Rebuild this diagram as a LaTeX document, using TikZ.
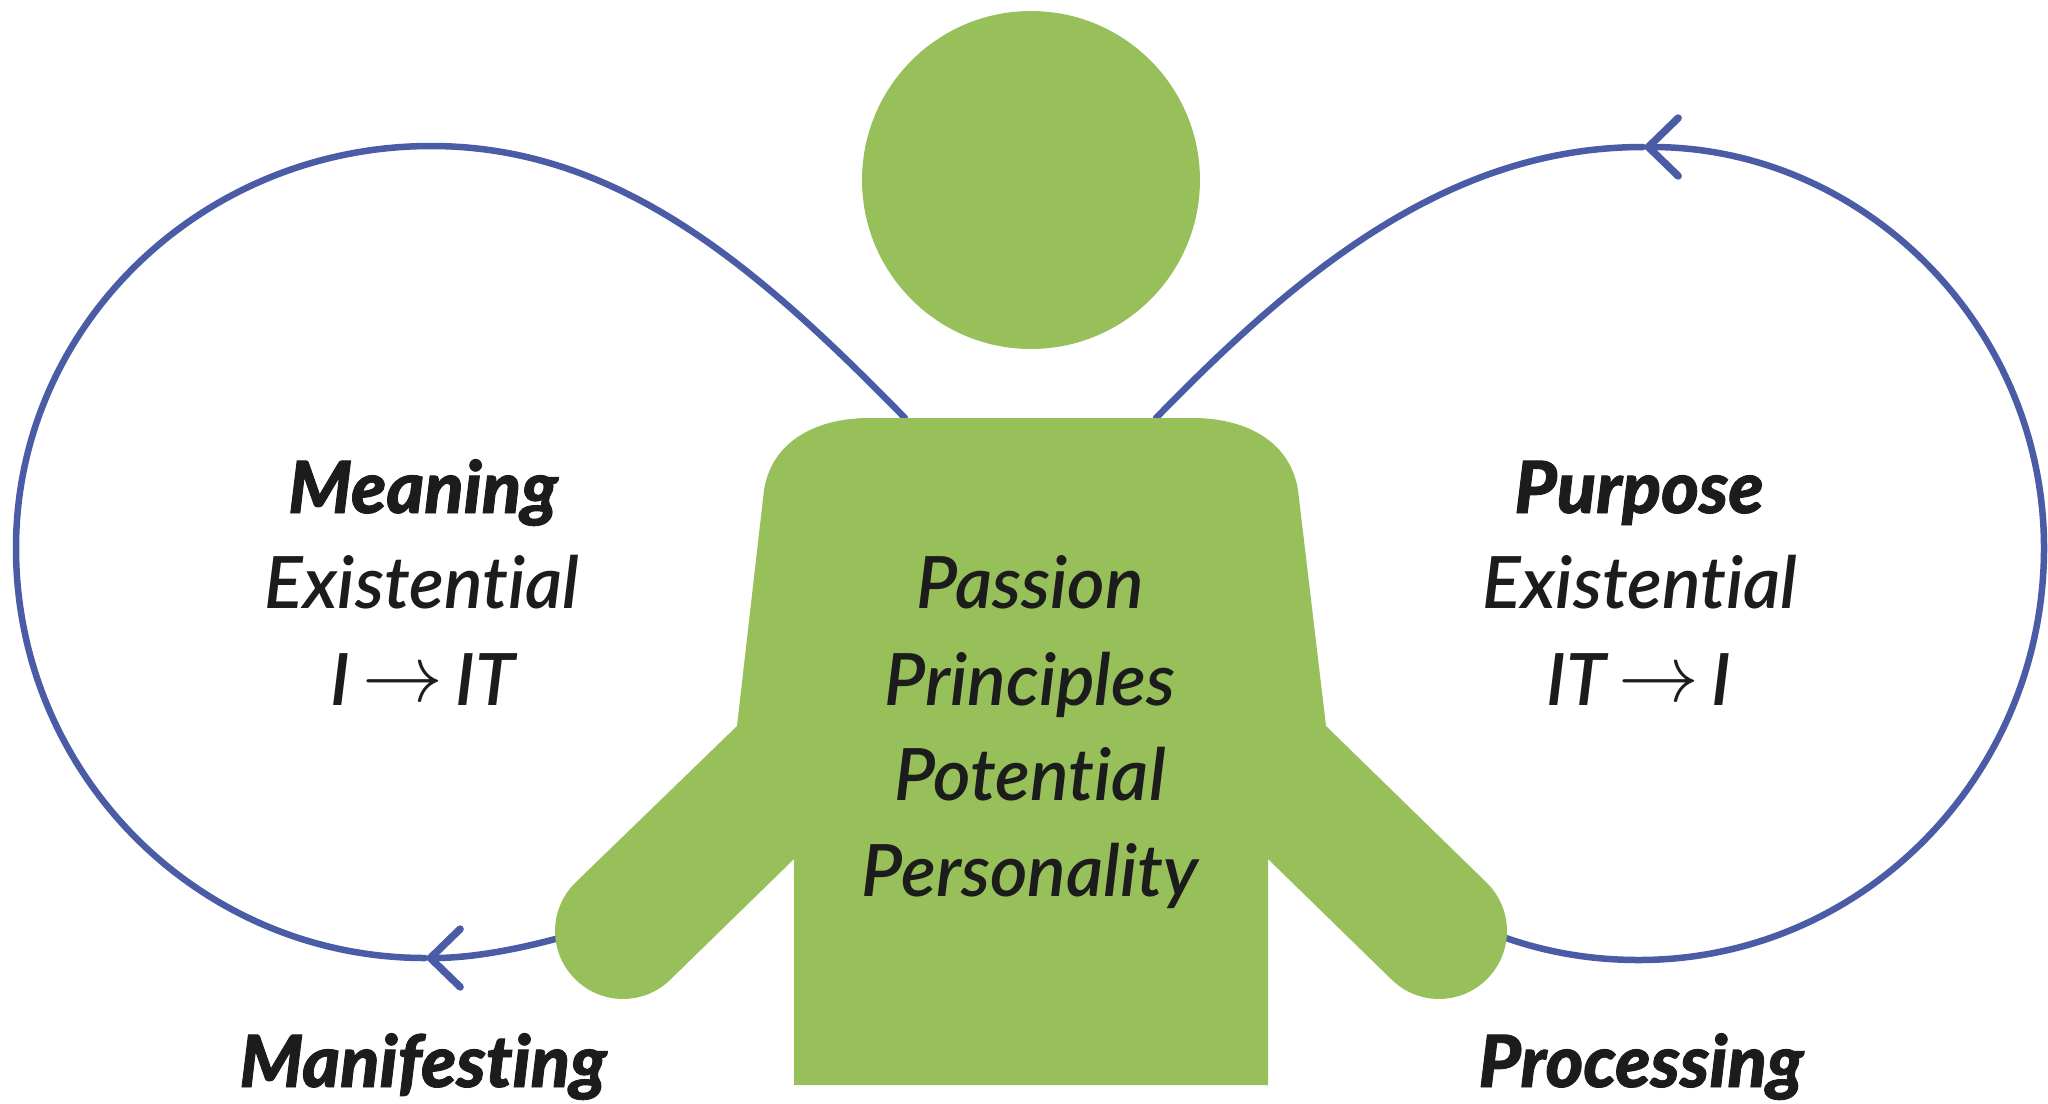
\documentclass[tikz,border=0pt]{standalone}
\usepackage{fontspec}
\usepackage{graphicx}
\setmainfont{Lato}[Ligatures=NoCommon,ItalicFont={Lato Semibold Italic},BoldItalicFont={Lato Black Italic},BoldItalicFeatures={FakeBold=1.2}]
\usetikzlibrary{arrows.meta}
\definecolor{bodygreen}{HTML}{98C05A}
\definecolor{loopblue}{HTML}{4A5CA5}
\definecolor{inktext}{HTML}{1C1C1C}
\newcommand{\longarrow}{\hspace{7pt}\raisebox{2pt}{\scalebox{1.85}{$\rightarrow$}}\hspace{7pt}}
\tikzset{
  loopline/.style={draw=loopblue,line width=3.7pt,line cap=round},
  barbtip/.style={-{Straight Barb[length=17pt,width=33pt,line width=4.2pt,line cap=round]}},
  figure/.style={fill=bodygreen,draw=none},
  lbl/.style={anchor=base,inner sep=0pt,text=inktext,font=\fontsize{41}{44}\selectfont\itshape},
  lblbold/.style={anchor=base,inner sep=0pt,text=inktext,font=\fontsize{41}{44}\selectfont\bfseries\itshape},
}
\begin{document}
\begin{tikzpicture}[x=0.02cm,y=-0.02cm]
\useasboundingbox (0,0) rectangle (2048,1103);
\fill[white] (0,0) rectangle (2048,1103);
% named loop points
\coordinate (lbodyend) at (905,418);
\coordinate (lhandend) at (559,938);
\coordinate (ltip) at (425,958);
\coordinate (rbodyend) at (1156,418);
\coordinate (rhandend) at (1506,938);
\coordinate (rtip) at (1643,147);
% left loop
\draw[loopline,barbtip] (lhandend) .. controls (515,950) and (470,958) .. (ltip);
\draw[loopline] (ltip) .. controls (200,958) and (16,775) .. (16,548)
  .. controls (16,326) and (202,146) .. (431,146)
  .. controls (620,146) and (760,270) .. (lbodyend);
% right loop
\draw[loopline,barbtip] (rhandend) .. controls (1555,955) and (1600,960) .. (1639,960)
  .. controls (1863,960) and (2044,775) .. (2044,548)
  .. controls (2044,326) and (1863,147) .. (rtip);
\draw[loopline] (rtip) .. controls (1450,147) and (1300,270) .. (rbodyend);
% figure
\node[figure,circle,minimum size=6.76cm,inner sep=0pt] (head) at (1031,180) {};
\path[figure] (869,418) -- (1193,418)
  .. controls (1244,418) and (1290,440) .. (1298,490)
  -- (1326,726) -- (1487,883)
  .. controls (1513.6,909.6) and (1513.6,952.4) .. (1487,979)
  .. controls (1460.4,1005.6) and (1417.6,1005.6) .. (1391,979)
  -- (1268,859) -- (1268,1085) -- (794,1085) -- (794,859)
  -- (671,979)
  .. controls (644.4,1005.6) and (601.6,1005.6) .. (575,979)
  .. controls (548.4,952.4) and (548.4,909.6) .. (575,883)
  -- (737,726) -- (764,490)
  .. controls (772,440) and (818,418) .. (869,418) -- cycle;
% left labels
\node[lblbold] (meaning) at (423,513) {Meaning};
\node[lbl] (exl) at (422,608) {Existential};
\node[lbl] (itl) at (423,705) {I\longarrow{}IT};
% right labels
\node[lblbold] (purpose) at (1639,513) {Purpose};
\node[lbl] (exr) at (1640,608) {Existential};
\node[lbl] (itr) at (1639,705) {IT\longarrow{}I};
% centre labels
\node[lbl] (passion) at (1030,608) {Passion};
\node[lbl] (principles) at (1030,705) {Principles};
\node[lbl] (potential) at (1030,800) {Potential};
\node[lbl] (personality) at (1030,896) {Personality};
% bottom labels
\node[lblbold] (manifesting) at (423,1087) {Manifesting};
\node[lblbold] (processing) at (1641,1087) {Processing};
\end{tikzpicture}
\end{document}
